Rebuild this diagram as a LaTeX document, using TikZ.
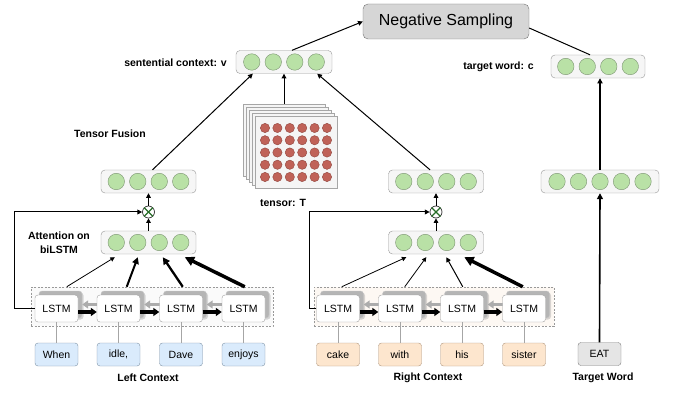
\documentclass[tikz,border=0pt]{standalone}
\usepackage{fontspec}
\setmainfont{Liberation Sans}
\usetikzlibrary{arrows.meta,calc,shadows}
\definecolor{gfill}{RGB}{185,225,166}
\definecolor{gdraw}{RGB}{125,150,115}
\definecolor{vfill}{RGB}{246,246,246}
\definecolor{vdraw}{RGB}{150,150,150}
\definecolor{bfill}{RGB}{218,235,252}
\definecolor{bdraw}{RGB}{125,145,165}
\definecolor{ofill}{RGB}{253,230,206}
\definecolor{odraw}{RGB}{175,150,125}
\definecolor{rfill}{RGB}{192,98,88}
\definecolor{rdraw}{RGB}{145,70,62}
\definecolor{xgreen}{RGB}{40,110,40}
\definecolor{lfillL}{RGB}{250,250,250}
\definecolor{lfillR}{RGB}{253,248,243}
\newcommand\myvec[5]{%
  \node[vecbox, minimum width=#5pt] (#1) at (#2,#3) {};
  \foreach \i [evaluate=\i as \dx using (\i-(#4+1)/2)*21.5] in {1,...,#4}
    \node[gdot] (#1-\i) at (#2+\dx,#3) {};
}
\tikzset{
  vecbox/.style={draw=vdraw, fill=vfill, rounded corners=4pt, minimum height=23pt, inner sep=0pt},
  gdot/.style={circle, draw=gdraw, fill=gfill, minimum size=16.5pt, inner sep=0pt},
  rdot/.style={circle, draw=rdraw, fill=rfill, minimum size=9.3pt, inner sep=0pt},
  sheet/.style={draw=gray!70, fill=gray!8, minimum width=82pt, minimum height=72pt, inner sep=0pt,
     drop shadow={shadow xshift=1.2pt, shadow yshift=-1.2pt, opacity=0.35}},
  lstm/.style={draw=gray!75, fill=white, rounded corners=3pt, minimum width=43pt, minimum height=27pt, inner sep=0pt, font=\fontsize{10.5}{12}\selectfont},
  lstmback/.style={draw=gray!45, fill=gray!58, rounded corners=3pt, minimum width=43pt, minimum height=27pt, inner sep=0pt,
     drop shadow={shadow xshift=1.5pt, shadow yshift=-1.5pt, opacity=0.3}},
  word/.style={rounded corners=3pt, minimum width=43pt, minimum height=23pt, inner sep=0pt, font=\fontsize{10.5}{12}\selectfont},
  lab/.style={font=\bfseries\fontsize{10.5}{12.5}\selectfont, inner sep=0pt},
  arr/.style={-{Triangle[length=3pt 1.8, width=3pt 1.8]}},
  mainline/.style={line width=1pt},
  ctxbox/.style={draw=gray!80, dash pattern=on 2pt off 1.5pt, line width=0.5pt, minimum width=#1, minimum height=39pt, inner sep=0pt},
  otimes/.style={circle, draw=black!80, fill=white, minimum size=12pt, inner sep=0pt, line width=0.7pt},
  fwd/.style={line width=3.2pt, -{Triangle[length=6pt, width=8pt]}},
  bwd/.style={line width=3pt, gray!65, -{Triangle[length=6pt, width=8pt]}},
  wline/.style={gray!70, line width=0.6pt}
}
\begin{document}
\begin{tikzpicture}[x=1pt,y=-1pt]
\useasboundingbox (0,0) rectangle (678,393);

% Negative sampling
\node[draw=black!55, fill=black!16, rounded corners=5pt, minimum width=166pt, minimum height=35pt, inner sep=0pt,
      font=\fontsize{16}{18}\selectfont] (ns) at (446,21.5) {Negative Sampling};

% vectors
\myvec{sv}{284}{62}{4}{96}
\myvec{tv}{598}{66.5}{4}{94}
\myvec{lf}{148.5}{181.5}{4}{95}
\myvec{la}{148.5}{242.5}{4}{95}
\myvec{rf}{436}{181.5}{4}{95}
\myvec{ra}{436}{242.5}{4}{95}
\myvec{t5}{600}{181.5}{5}{118}

% labels
\node[lab, anchor=east] (lsv) at (227,63) {sentential context: v};
\node[lab, anchor=east] (ltv) at (534,67) {target word: c};
\node[lab] (ltf) at (110,134) {Tensor Fusion};
\node[lab, align=center] (lat) at (59,242.5) {Attention on\\[1pt]biLSTM};
\node[lab] (ltt) at (283,203) {tensor: T};
\node[lab] (llc) at (148,378) {Left Context};
\node[lab] (lrc) at (428,378) {Right Context};
\node[lab] (ltw) at (603,378) {Target Word};

% tensor
\foreach \k in {4,3,2,1,0}
  \node[sheet] (t\k) at (296-3*\k,152-3*\k) {};
\foreach \c in {0,...,5}
  \foreach \r in {0,...,4}
    \node[rdot] (d\c\r) at (265+\c*12.4,128+\r*12.25) {};

% context boxes
\node[ctxbox=242pt, fill=lfillL] (ld) at (152,306.5) {};
\node[ctxbox=240pt, fill=lfillR] (rd) at (434,306.5) {};

% LSTMs
\foreach \n/\x in {1/56.5,2/118.5,3/181,4/243.5}
  \node[lstmback] (lb\n) at (\x+4,304.5) {};
\foreach \n/\x in {1/338,2/400,3/462,4/524}
  \node[lstmback] (rb\n) at (\x+4,304.5) {};
\foreach \a/\b in {2/1,3/2,4/3} {
  \draw[bwd] (lb\a.west) -- (lb\b.east);
  \draw[bwd] (rb\a.west) -- (rb\b.east);
}
\foreach \n/\x in {1/56.5,2/118.5,3/181,4/243.5}
  \node[lstm] (l\n) at (\x,308.5) {LSTM};
\foreach \n/\x in {1/338,2/400,3/462,4/524}
  \node[lstm] (r\n) at (\x,308.5) {LSTM};
\foreach \a/\b in {1/2,2/3,3/4} {
  \draw[fwd] ([yshift=-3.5pt]l\a.east) -- ([yshift=-3.5pt]l\b.west);
  \draw[fwd] ([yshift=-3.5pt]r\a.east) -- ([yshift=-3.5pt]r\b.west);
}

% words
\foreach \n/\x/\w in {1/56.5/When,2/118.5/{idle,},3/181/Dave,4/243.5/enjoys} {
  \node[word, draw=bdraw, fill=bfill] (w\n) at (\x,354.5) {\w};
  \draw[wline] (w\n.north) -- (l\n.south);
}
\foreach \n/\x/\w in {1/338/cake,2/400/with,3/462/his,4/524/sister} {
  \node[word, draw=odraw, fill=ofill] (v\n) at (\x,354.5) {\w};
  \draw[wline] (v\n.north) -- (r\n.south);
}
\node[word, draw=black!50, fill=black!10] (eat) at (599.5,354) {EAT};

% otimes
\node[otimes] (lo) at (148.5,212) {};
\node[otimes] (ro) at (436,212) {};
\foreach \o in {lo,ro} {
  \draw[xgreen, line width=1.1pt] (\o.north west) -- (\o.south east);
  \draw[xgreen, line width=1.1pt] (\o.north east) -- (\o.south west);
}

% attention arrows left
\draw[arr, line width=0.8pt] ($(ld.north west)+(36,0)$) -- ($(la.south west)+(14,3)$);
\draw[arr, line width=2pt]   ($(ld.north west)+(96,0)$) -- ($(la.south west)+(37,3)$);
\draw[arr, line width=2.3pt] ($(ld.north west)+(152,0)$) -- ($(la.south west)+(62,3)$);
\draw[arr, line width=3.5pt] ($(ld.north west)+(214,0)$) -- ($(la.south west)+(84,3)$);
% attention arrows right
\draw[arr, line width=0.8pt] ($(rd.north west)+(28,0)$) -- ($(ra.south west)+(18,3)$);
\draw[arr, line width=0.8pt] ($(rd.north west)+(91,0)$) -- ($(ra.south west)+(38,3)$);
\draw[arr, line width=1pt]   ($(rd.north west)+(149,0)$) -- ($(ra.south west)+(58,3)$);
\draw[arr, line width=3.5pt] ($(rd.north west)+(209,0)$) -- ($(ra.south west)+(76,3)$);

% attention -> otimes -> fused
\draw[arr, line width=0.9pt] (la.north) -- (lo.south);
\draw[arr, line width=0.9pt] (lo.north) -- (lf.south);
\draw[arr, line width=0.9pt] (ra.north) -- (ro.south);
\draw[arr, line width=0.9pt] (ro.north) -- (rf.south);

% feedback lines
\draw[arr, mainline] (l1.west) -- ++(-20,0) |- (lo.west);
\draw[arr, mainline] (r1.west) -- ++(-7,0) |- (ro.west);

% to sentential context
\draw[arr, mainline] ([xshift=4pt]lf.north) -- ([xshift=17pt]sv.south west);
\draw[arr, mainline] (t4.north) -- (sv.south);
\draw[arr, mainline] ([xshift=-6pt]rf.north) -- ([xshift=-15pt]sv.south east);

% to negative sampling
\draw[arr, mainline] ([xshift=8pt]sv.north) -- (ns.west);
\draw[mainline] ([yshift=-6.5pt]ns.east) -- ([xshift=-8pt]tv.north);

% target word path
\draw[arr, line width=1.6pt] (eat.north) -- (t5.south);
\draw[arr, line width=1.2pt] (t5.north) -- (t5.north |- tv.south);
\end{tikzpicture}
\end{document}
